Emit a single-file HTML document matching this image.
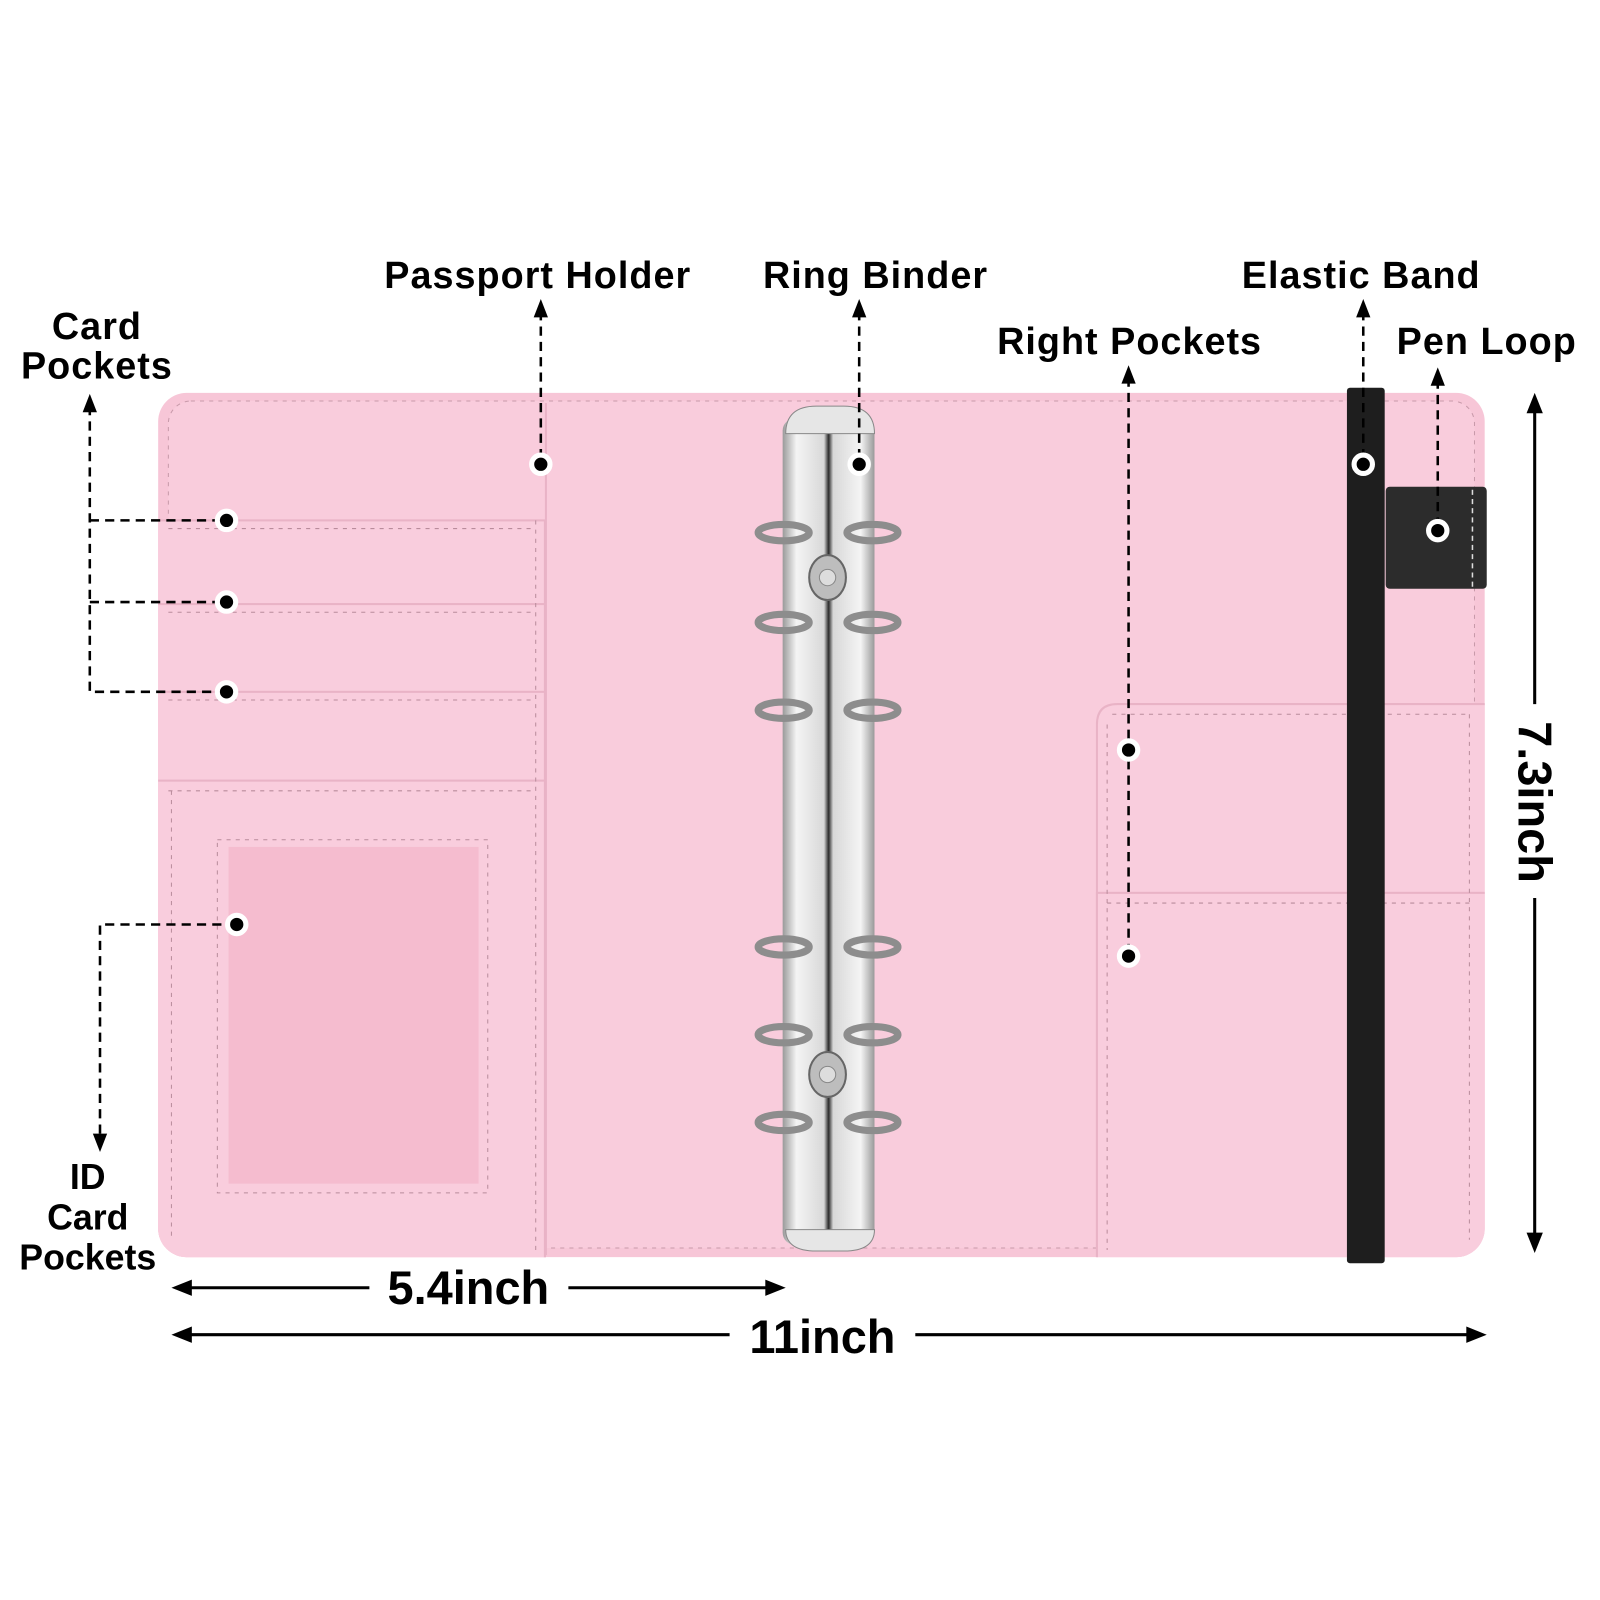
<!DOCTYPE html>
<html><head><meta charset="utf-8"><style>html,body{margin:0;padding:0;background:#fff}svg{display:block}</style></head><body>
<svg width="1600" height="1600" viewBox="0 0 1568 1568" xmlns="http://www.w3.org/2000/svg" font-family="Liberation Sans, sans-serif" font-weight="bold">
<defs>
<clipPath id="cov"><rect x="155" y="385" width="1300" height="847" rx="28"/></clipPath>
<linearGradient id="metal" x1="0" x2="1"><stop offset="0" stop-color="#9a9a9a"/><stop offset="0.15" stop-color="#f4f4f4"/><stop offset="0.45" stop-color="#d8d8d8"/><stop offset="0.5" stop-color="#2a2a2a"/><stop offset="0.55" stop-color="#d8d8d8"/><stop offset="0.85" stop-color="#f4f4f4"/><stop offset="1" stop-color="#9a9a9a"/></linearGradient>
</defs>
<!-- cover -->
<rect x="155" y="385" width="1300" height="847" rx="28" fill="#f7c6d7"/>
<g clip-path="url(#cov)">
<rect x="165" y="393" width="1280" height="830" rx="22" fill="#f9ccdc" stroke="#c89aaa" stroke-width="1" stroke-dasharray="4 5"/>
<g fill="#f9cddd" stroke="#e9b3c6" stroke-width="2">
<rect x="150" y="510" width="384" height="730"/>
<rect x="150" y="592" width="384" height="650"/>
<rect x="150" y="678" width="384" height="560"/>
<rect x="150" y="765" width="384" height="475"/>
</g>
<g fill="none" stroke="#b98c9c" stroke-width="1" stroke-dasharray="4 5">
<line x1="165" y1="518" x2="525" y2="518"/><line x1="165" y1="600" x2="525" y2="600"/><line x1="165" y1="686" x2="525" y2="686"/><line x1="165" y1="775" x2="525" y2="775"/>
<line x1="525" y1="510" x2="525" y2="1225"/><line x1="168" y1="775" x2="168" y2="1215"/>
<rect x="213" y="823" width="265" height="346"/>
</g>
<rect x="224" y="830" width="245" height="330" fill="#f5bccf"/>
<line x1="535" y1="395" x2="535" y2="1230" stroke="#e9b3c6" stroke-width="2"/>
<path d="M1095,690 H1460 V1240 H1075 V710 Q1075,690 1095,690 Z" fill="#f9cddd" stroke="#e9b3c6" stroke-width="2"/>
<rect x="1075" y="875" width="385" height="365" fill="#f9cddd" stroke="#e9b3c6" stroke-width="2"/>
<g fill="none" stroke="#b98c9c" stroke-width="1" stroke-dasharray="4 5">
<line x1="1090" y1="700" x2="1440" y2="700"/><line x1="1085" y1="885" x2="1440" y2="885"/><line x1="1085" y1="710" x2="1085" y2="1225"/><line x1="1440" y1="700" x2="1440" y2="1215"/>
</g>
</g>
<!-- elastic + pen loop -->
<rect x="1320" y="380" width="37" height="858" rx="3" fill="#1e1e1e"/>
<rect x="1358" y="477" width="99" height="100" rx="4" fill="#2c2c2c"/>
<line x1="1443" y1="480" x2="1443" y2="575" stroke="#ddd" stroke-width="1.5" stroke-dasharray="5 4"/>
<!-- ring binder -->
<rect x="767" y="410" width="90" height="810" rx="12" fill="url(#metal)"/>
<path d="M770,425 Q770,398 800,398 H827 Q857,398 857,425 Z" fill="#e6e6e6" stroke="#888"/>
<path d="M770,1205 Q770,1226 800,1226 H827 Q857,1226 857,1205 Z" fill="#e6e6e6" stroke="#888"/>
<g fill="none" stroke="#8d8d8d" stroke-width="7">
<ellipse cx="768" cy="522" rx="25" ry="8"/><ellipse cx="855" cy="522" rx="25" ry="8"/>
<ellipse cx="768" cy="610" rx="25" ry="8"/><ellipse cx="855" cy="610" rx="25" ry="8"/>
<ellipse cx="768" cy="696" rx="25" ry="8"/><ellipse cx="855" cy="696" rx="25" ry="8"/>
<ellipse cx="768" cy="928" rx="25" ry="8"/><ellipse cx="855" cy="928" rx="25" ry="8"/>
<ellipse cx="768" cy="1014" rx="25" ry="8"/><ellipse cx="855" cy="1014" rx="25" ry="8"/>
<ellipse cx="768" cy="1100" rx="25" ry="8"/><ellipse cx="855" cy="1100" rx="25" ry="8"/>
</g>
<ellipse cx="811" cy="566" rx="18" ry="22" fill="#bdbdbd" stroke="#666" stroke-width="2"/><circle cx="811" cy="566" r="8" fill="#ddd" stroke="#888"/>
<ellipse cx="811" cy="1053" rx="18" ry="22" fill="#bdbdbd" stroke="#666" stroke-width="2"/><circle cx="811" cy="1053" r="8" fill="#ddd" stroke="#888"/>
<!-- leader lines -->
<g fill="none" stroke="#000" stroke-width="2.5" stroke-dasharray="9 6">
<path d="M88,398 V678 H222"/><path d="M88,510 H222"/><path d="M88,590 H222"/>
<path d="M232,906 H98 V1115"/>
<line x1="530" y1="305" x2="530" y2="455"/>
<line x1="842" y1="305" x2="842" y2="455"/>
<line x1="1106" y1="370" x2="1106" y2="937"/>
<line x1="1336" y1="305" x2="1336" y2="455"/>
<line x1="1409" y1="372" x2="1409" y2="520"/>
</g>
<g fill="#000">
<path d="M88,386 l-7,18 h14 z"/><path d="M98,1129 l-7,-18 h14 z"/>
<path d="M530,293 l-7,18 h14 z"/><path d="M842,293 l-7,18 h14 z"/><path d="M1106,358 l-7,18 h14 z"/><path d="M1336,293 l-7,18 h14 z"/><path d="M1409,360 l-7,18 h14 z"/>
</g>
<g fill="#000" stroke="#fff" stroke-width="5">
<circle cx="222" cy="510" r="9"/><circle cx="222" cy="590" r="9"/><circle cx="222" cy="678" r="9"/><circle cx="232" cy="906" r="9"/>
<circle cx="530" cy="455" r="9"/><circle cx="842" cy="455" r="9"/><circle cx="1106" cy="735" r="9"/><circle cx="1106" cy="937" r="9"/><circle cx="1336" cy="455" r="9"/><circle cx="1409" cy="520" r="9"/>
</g>
<!-- dimension lines -->
<g stroke="#000" stroke-width="3">
<line x1="180" y1="1262" x2="362" y2="1262"/>
<line x1="557" y1="1262" x2="758" y2="1262"/>
<line x1="180" y1="1308" x2="715" y2="1308"/>
<line x1="897" y1="1308" x2="1445" y2="1308"/>
<line x1="1504" y1="400" x2="1504" y2="690"/>
<line x1="1504" y1="880" x2="1504" y2="1215"/>
</g>
<g fill="#000">
<path d="M168,1262 l20,-8 v16 z"/><path d="M770,1262 l-20,-8 v16 z"/>
<path d="M168,1308 l20,-8 v16 z"/><path d="M1457,1308 l-20,-8 v16 z"/>
<path d="M1504,385 l-8,20 h16 z"/><path d="M1504,1228 l-8,-20 h16 z"/>
</g>
<!-- labels -->
<g fill="#000" font-size="37" letter-spacing="1">
<text x="527" y="282" text-anchor="middle">Passport Holder</text>
<text x="858" y="282" text-anchor="middle">Ring Binder</text>
<text x="1334" y="282" text-anchor="middle">Elastic Band</text>
<text x="1107" y="347" text-anchor="middle">Right Pockets</text>
<text x="1457" y="347" text-anchor="middle">Pen Loop</text>
<text x="95" y="332" text-anchor="middle">Card</text>
<text x="95" y="371" text-anchor="middle">Pockets</text>
</g>
<g fill="#000" font-size="35">
<text x="86" y="1165" text-anchor="middle">ID</text>
<text x="86" y="1205" text-anchor="middle">Card</text>
<text x="86" y="1244" text-anchor="middle">Pockets</text>
</g>
<g fill="#000" font-size="46">
<text x="459" y="1278" text-anchor="middle">5.4inch</text>
<text x="806" y="1326" text-anchor="middle">11inch</text>
<text transform="translate(1488,786) rotate(90)" text-anchor="middle">7.3inch</text>
</g>
</svg>
</body></html>
